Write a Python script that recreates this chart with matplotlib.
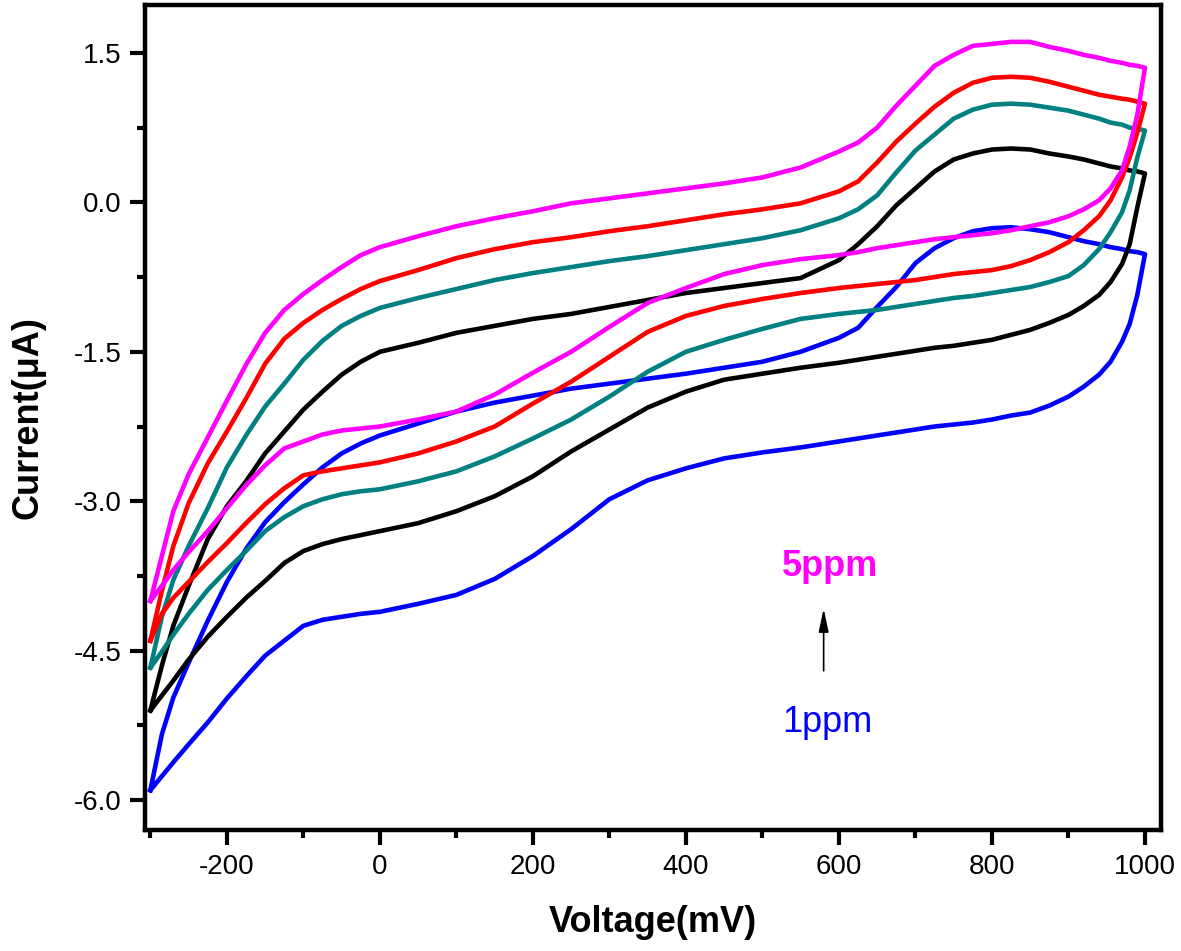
import numpy as np
import matplotlib
matplotlib.use("Agg")
import matplotlib.pyplot as plt
from matplotlib.ticker import MultipleLocator, FormatStrFormatter

plt.rcParams['font.family'] = ['Liberation Sans', 'DejaVu Sans']
plt.rcParams['axes.unicode_minus'] = False

# voltage grid (mV) shared by all scans
volt = [-300, -285, -270, -250, -225, -200, -175, -150, -125, -100, -75, -50, -25, 0,
        50, 100, 150, 200, 250, 300, 350, 400, 450, 500, 550, 600, 625, 650, 675,
        700, 725, 750, 775, 800, 825, 850, 875, 900, 920, 940, 955, 970, 980, 990, 1000]

# current (uA): forward (upper) and reverse (lower) branch of each loop
blue_fwd = [-5.90, -5.34, -4.97, -4.62, -4.20, -3.81, -3.48, -3.21, -3.01, -2.83, -2.66, -2.52, -2.42, -2.34,
            -2.22, -2.10, -2.01, -1.94, -1.87, -1.82, -1.77, -1.72, -1.66, -1.60, -1.50, -1.36, -1.26, -1.05, -0.85,
            -0.61, -0.46, -0.36, -0.29, -0.26, -0.25, -0.27, -0.30, -0.35, -0.39, -0.42, -0.45, -0.47, -0.49, -0.50, -0.52]
blue_rev = [-5.90, -5.76, -5.62, -5.44, -5.22, -4.98, -4.76, -4.55, -4.40, -4.25, -4.19, -4.16, -4.13, -4.11,
            -4.03, -3.94, -3.78, -3.55, -3.28, -2.98, -2.79, -2.67, -2.57, -2.51, -2.46, -2.40, -2.37, -2.34, -2.31,
            -2.28, -2.25, -2.23, -2.21, -2.18, -2.14, -2.11, -2.04, -1.95, -1.85, -1.73, -1.60, -1.40, -1.22, -0.93, -0.52]

black_fwd = [-5.10, -4.65, -4.25, -3.85, -3.38, -3.05, -2.80, -2.52, -2.30, -2.08, -1.90, -1.73, -1.60, -1.50,
             -1.41, -1.31, -1.24, -1.17, -1.12, -1.05, -0.98, -0.91, -0.86, -0.81, -0.76, -0.58, -0.42, -0.24, -0.03,
             0.14, 0.31, 0.43, 0.49, 0.53, 0.54, 0.53, 0.49, 0.46, 0.43, 0.39, 0.36, 0.34, 0.32, 0.31, 0.29]
black_rev = [-5.10, -4.95, -4.80, -4.59, -4.36, -4.16, -3.97, -3.80, -3.62, -3.50, -3.43, -3.38, -3.34, -3.30,
             -3.22, -3.10, -2.95, -2.75, -2.50, -2.28, -2.06, -1.90, -1.78, -1.72, -1.66, -1.61, -1.58, -1.55, -1.52,
             -1.49, -1.46, -1.44, -1.41, -1.38, -1.33, -1.28, -1.21, -1.13, -1.04, -0.93, -0.80, -0.62, -0.42, -0.05, 0.29]

teal_fwd = [-4.67, -4.16, -3.79, -3.45, -3.07, -2.66, -2.34, -2.05, -1.82, -1.58, -1.39, -1.24, -1.14, -1.06,
            -0.96, -0.87, -0.78, -0.71, -0.65, -0.59, -0.54, -0.48, -0.42, -0.36, -0.28, -0.16, -0.07, 0.07, 0.30,
            0.52, 0.68, 0.84, 0.93, 0.98, 0.99, 0.98, 0.95, 0.92, 0.88, 0.84, 0.80, 0.78, 0.75, 0.74, 0.72]
teal_rev = [-4.67, -4.51, -4.34, -4.13, -3.89, -3.69, -3.50, -3.30, -3.16, -3.05, -2.98, -2.93, -2.90, -2.88,
            -2.80, -2.70, -2.55, -2.37, -2.18, -1.95, -1.70, -1.50, -1.38, -1.27, -1.17, -1.12, -1.10, -1.08, -1.05,
            -1.02, -0.99, -0.96, -0.94, -0.91, -0.88, -0.85, -0.80, -0.74, -0.63, -0.47, -0.30, -0.10, 0.12, 0.45, 0.72]

red_fwd = [-4.40, -3.90, -3.45, -3.02, -2.62, -2.30, -1.97, -1.62, -1.37, -1.21, -1.08, -0.97, -0.87, -0.79,
           -0.68, -0.56, -0.47, -0.40, -0.35, -0.29, -0.24, -0.18, -0.12, -0.07, -0.01, 0.11, 0.21, 0.40, 0.61,
           0.79, 0.96, 1.10, 1.20, 1.25, 1.26, 1.25, 1.21, 1.16, 1.12, 1.08, 1.06, 1.04, 1.03, 1.01, 0.99]
red_rev = [-4.40, -4.13, -3.97, -3.81, -3.61, -3.42, -3.22, -3.03, -2.87, -2.74, -2.70, -2.67, -2.64, -2.61,
           -2.52, -2.40, -2.25, -2.02, -1.80, -1.55, -1.30, -1.14, -1.04, -0.97, -0.91, -0.86, -0.84, -0.82, -0.80,
           -0.78, -0.75, -0.72, -0.70, -0.68, -0.64, -0.58, -0.50, -0.40, -0.28, -0.14, 0.02, 0.25, 0.45, 0.70, 0.99]

magenta_fwd = [-4.00, -3.55, -3.10, -2.73, -2.36, -1.99, -1.63, -1.31, -1.08, -0.92, -0.78, -0.65, -0.53, -0.45,
               -0.34, -0.24, -0.16, -0.09, -0.01, 0.04, 0.09, 0.14, 0.19, 0.25, 0.35, 0.51, 0.60, 0.75, 0.97,
               1.17, 1.37, 1.48, 1.57, 1.59, 1.61, 1.61, 1.56, 1.52, 1.48, 1.45, 1.42, 1.40, 1.38, 1.37, 1.35]
magenta_rev = [-4.00, -3.85, -3.69, -3.51, -3.30, -3.07, -2.84, -2.64, -2.47, -2.40, -2.33, -2.29, -2.27, -2.25,
               -2.18, -2.10, -1.93, -1.71, -1.50, -1.25, -1.01, -0.86, -0.72, -0.63, -0.57, -0.53, -0.50, -0.46, -0.43,
               -0.40, -0.37, -0.35, -0.33, -0.31, -0.28, -0.24, -0.20, -0.14, -0.07, 0.02, 0.14, 0.32, 0.56, 0.88, 1.35]

loops = [(blue_fwd, blue_rev, '#0000ff'),
         (black_fwd, black_rev, '#000000'),
         (teal_fwd, teal_rev, '#008080'),
         (red_fwd, red_rev, '#ff0000'),
         (magenta_fwd, magenta_rev, '#ff00ff')]

fig = plt.figure(figsize=(11.81, 9.51), dpi=100)
ax = fig.add_axes([0.1228, 0.1272, 0.8603, 0.8675])

for fwd, rev, col in loops:
    x = volt + volt[::-1]
    y = fwd + rev[::-1]
    ax.plot(x, y, color=col, lw=3.3, solid_joinstyle='round')

ax.set_xlim(-307, 1021)
ax.set_ylim(-6.3, 1.98)

ax.xaxis.set_major_locator(MultipleLocator(200))
ax.xaxis.set_minor_locator(MultipleLocator(100))
ax.yaxis.set_major_locator(MultipleLocator(1.5))
ax.yaxis.set_minor_locator(MultipleLocator(0.75))
ax.yaxis.set_major_formatter(FormatStrFormatter('%.1f'))

for sp in ax.spines.values():
    sp.set_linewidth(3.2)
ax.tick_params(which='both', direction='out', top=False, right=False, width=3)
ax.tick_params(which='major', length=11, labelsize=20, pad=6)
ax.tick_params(which='minor', length=6)

ax.set_xlabel('Voltage(mV)', fontsize=26, fontweight='bold', labelpad=18)
ax.set_ylabel('Current(μA)', fontsize=26, fontweight='bold', labelpad=20)

ax.annotate('', xy=(580, -4.05), xytext=(580, -4.73),
            arrowprops=dict(arrowstyle='-|>,head_width=0.15,head_length=0.7',
                            color='black', lw=1.2, mutation_scale=20))
ax.text(588, -3.75, '5ppm', color='#ff00ff', fontsize=26, fontweight='bold',
        ha='center', va='baseline')
ax.text(585, -5.32, '1ppm', color='#0000ff', fontsize=26,
        ha='center', va='baseline')

fig.savefig('out.png', dpi=100)
